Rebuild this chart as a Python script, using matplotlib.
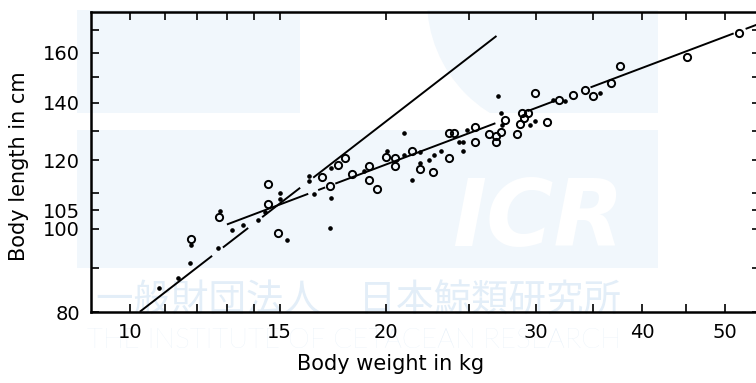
import numpy as np
import matplotlib.pyplot as plt
from matplotlib.patches import Rectangle, Circle
from matplotlib.ticker import FixedLocator, FixedFormatter, NullLocator

# open circles (weight kg, length cm)
open_wt = [11.80, 12.73, 14.52, 14.54, 14.94, 16.82, 17.19, 17.57, 17.87, 18.23,
           19.11, 19.07, 19.53, 20.01, 20.49, 20.46, 21.45, 21.90, 22.69, 23.73,
           23.69, 24.01, 25.41, 25.41, 26.40, 26.95, 26.95, 27.32, 27.62, 28.51,
           28.71, 29.08, 28.89, 29.33, 29.89, 30.93, 31.92, 33.19, 34.25, 35.03,
           36.78, 37.65, 45.18, 51.96]
open_len = [97.3, 103.1, 106.7, 112.8, 98.7, 114.7, 112.2, 118.7, 120.8, 115.7,
            118.3, 114.0, 111.3, 121.1, 120.8, 118.1, 123.2, 117.4, 116.5, 120.8,
            129.1, 129.3, 131.2, 126.1, 128.9, 128.0, 126.1, 129.5, 133.8, 128.8,
            132.4, 134.4, 136.4, 136.4, 143.9, 133.0, 141.1, 143.0, 144.7, 142.7,
            147.6, 154.3, 158.2, 168.6]

# small dots (weight kg, length cm)
dot_wt = [10.83, 11.38, 11.77, 11.79, 12.68, 12.76, 13.17, 13.59, 14.15, 14.43,
          14.99, 14.99, 15.31, 16.23, 16.23, 16.45, 17.24, 17.22, 17.19, 18.84,
          20.05, 20.97, 20.97, 21.94, 21.90, 21.45, 22.44, 22.74, 23.22, 24.34,
          24.63, 24.63, 24.90, 27.05, 27.30, 27.37, 29.55, 29.95, 31.44, 32.44,
          35.66]
dot_len = [85.2, 87.6, 91.1, 95.8, 95.0, 104.9, 99.7, 101.0, 102.3, 104.6,
           109.9, 108.3, 97.0, 115.2, 113.5, 109.8, 117.6, 108.5, 100.2, 116.6,
           123.2, 129.1, 121.8, 122.8, 119.2, 114.0, 120.2, 121.7, 123.2, 126.2,
           125.9, 123.2, 130.3, 142.7, 136.4, 132.0, 132.0, 133.2, 141.1, 140.7,
           143.9]

# fitted lines L = a * W**b, drawn in broken pieces (weight ranges)
steep_fit = (13.49, 0.7645)
steep_pieces = [(10.27, 12.49), (12.86, 13.77), (14.30, 15.85), (16.42, 26.96)]
flat_fit = (38.86, 0.3728)
flat_pieces = [(13.0, 16.2), (16.64, 16.96), (17.43, 26.88), (29.31, 31.46),
               (34.77, 51.22), (52.9, 55.0)]

x_ticks = [10, 11, 12, 13, 14, 15, 20, 25, 30, 35, 40, 45, 50]
x_labels = ['10', '', '', '', '', '15', '20', '', '30', '', '40', '', '50']
y_ticks = [80, 90, 100, 105, 110, 120, 130, 140, 150, 160, 170]
y_labels = ['80', '', '100', '105', '', '120', '', '140', '', '160', '']

plt.rcParams['font.family'] = ['DejaVu Sans']

fig = plt.figure(figsize=(7.56, 3.83), dpi=100)

# faint institute logo behind the plot
bg = fig.add_axes([0, 0, 1, 1], zorder=0)
bg.set_xlim(0, 756)
bg.set_ylim(383, 0)
bg.axis('off')
wm = '#f1f7fc'
bg.add_patch(Rectangle((77, 10), 223, 103, color=wm, lw=0))
clip = Rectangle((77, 10), 581, 103, transform=bg.transData)
disc = Circle((560, 0), 133, color=wm, lw=0)
bg.add_patch(disc)
disc.set_clip_path(clip)
bg.add_patch(Rectangle((560, 10), 98, 103, color=wm, lw=0))
bg.add_patch(Rectangle((77, 130), 581, 138, color=wm, lw=0))
bg.text(538, 220, 'ICR', color='white', fontsize=66, fontweight='bold',
        fontstyle='italic', ha='center', va='center')
bg.text(359, 300, '一般財団法人　日本鯨類研究所', color='#e3eef8', fontsize=27,
        ha='center', va='center', family=['Noto Sans CJK JP', 'DejaVu Sans'])
bg.text(354, 340, 'THE INSTITUTE OF CETACEAN RESEARCH', color='#e3eef8',
        fontsize=20, fontweight='light', ha='center', va='center',
        family=['Lato', 'DejaVu Sans'])

ax = fig.add_axes([91 / 756, 71 / 383, 669 / 756, 300 / 383], zorder=1)
ax.patch.set_alpha(0)
ax.set_xscale('log')
ax.set_yscale('log')
ax.set_xlim(9, 55)
ax.set_ylim(80, 178.5)

for (a, b), pieces in [(steep_fit, steep_pieces), (flat_fit, flat_pieces)]:
    for w0, w1 in pieces:
        w = np.array([w0, w1])
        ax.plot(w, a * w ** b, color='black', lw=1.4, solid_capstyle='butt')

ax.plot(open_wt, open_len, 'o', ms=5.2, mfc='none', mec='black', mew=1.4)
ax.plot(dot_wt, dot_len, 'o', ms=2.3, color='black')

ax.xaxis.set_major_locator(FixedLocator(x_ticks))
ax.xaxis.set_major_formatter(FixedFormatter(x_labels))
ax.xaxis.set_minor_locator(NullLocator())
ax.yaxis.set_major_locator(FixedLocator(y_ticks))
ax.yaxis.set_major_formatter(FixedFormatter(y_labels))
ax.yaxis.set_minor_locator(NullLocator())
ax.tick_params(direction='in', length=5.5, width=1.2, labelsize=14, pad=8,
               top=True, right=True)
for s in ax.spines.values():
    s.set_linewidth(1.8)

ax.set_xlabel('Body weight in kg', fontsize=15)
ax.set_ylabel('Body length in cm', fontsize=15)
ax.xaxis.set_label_coords((391 - 91) / 669, -0.14)
ax.yaxis.set_label_coords((29 - 91) / 669, 0.487)

fig.savefig('out.png', dpi=100)
